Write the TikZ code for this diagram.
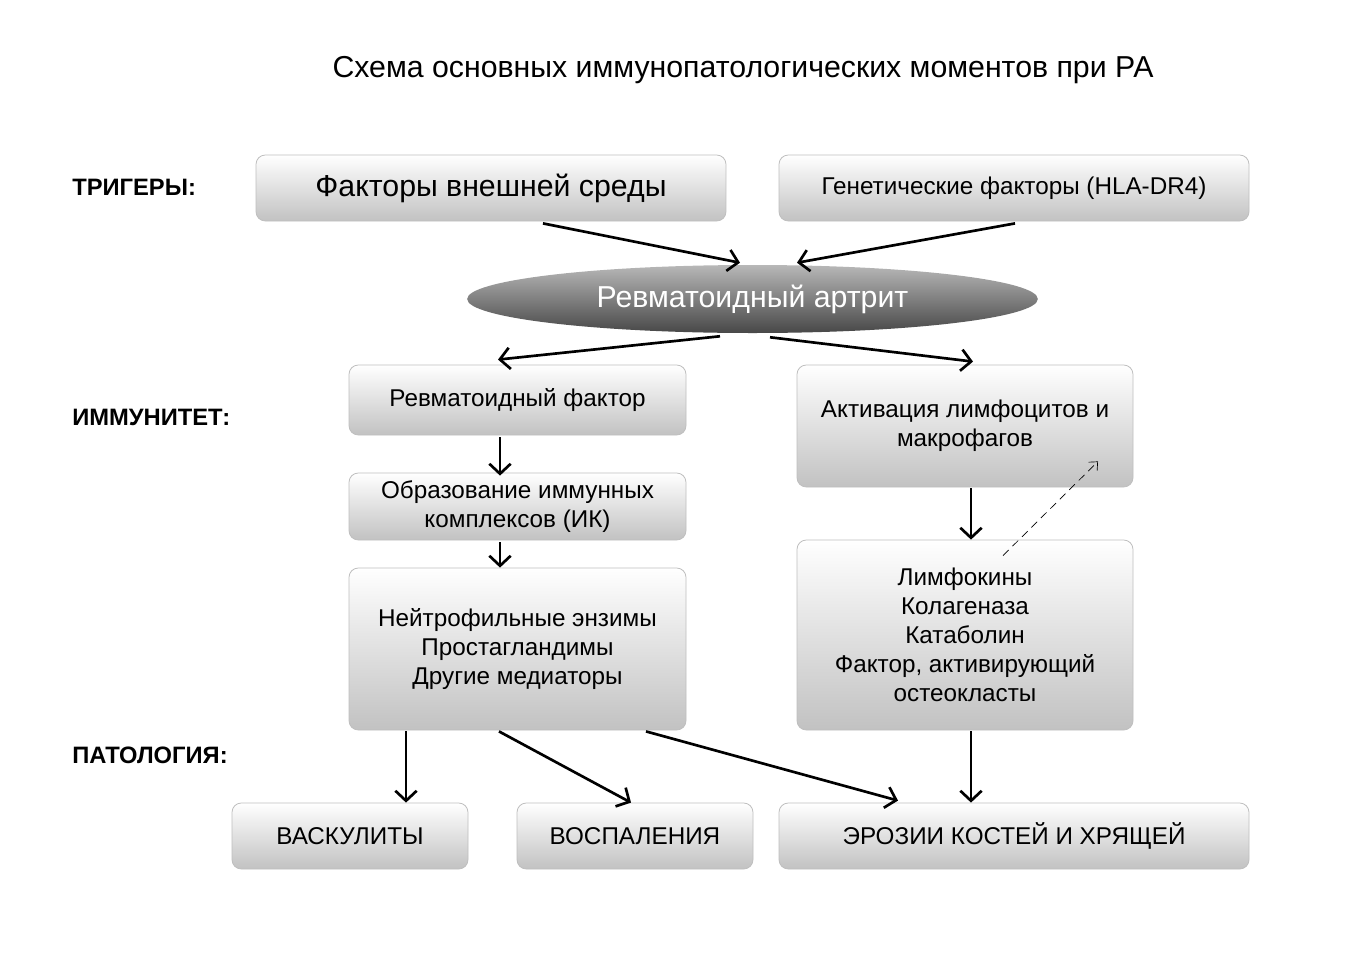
\documentclass[tikz,border=0pt]{standalone}
\usepackage{fontspec}
\setmainfont{Liberation Sans}
\usetikzlibrary{shapes.geometric, arrows.meta, calc}

\begin{document}
\begin{tikzpicture}[x=0.75pt, y=-0.75pt,
    box/.style={draw=black!25, line width=0.6pt, rounded corners=7pt,
        top color=white, bottom color=black!24, align=center, inner sep=0pt,
        font=\fontsize{18.2}{21.75}\selectfont},
    bigbox/.style={box, font=\fontsize{22.7}{26}\selectfont},
    sidelabel/.style={anchor=west, inner sep=0pt, font=\bfseries\fontsize{17.8}{20}\selectfont},
    arr/.style={line width=2pt, -{Straight Barb[length=7.5pt, width=16pt]}},
    dasharr/.style={line width=0.5pt, dash pattern=on 6pt off 4pt,
        -{Straight Barb[length=5pt, width=9pt]}}
]

    % Page and margins
    \fill[white] (0,0) rectangle (1368,964);
    \useasboundingbox (0,0) rectangle (1368,964);

    % Title
    \node[font=\fontsize{22.7}{26}\selectfont] (title) at (743,70) {Схема основных иммунопатологических моментов при РА};

    % Row labels
    \node[sidelabel] (trig) at (72,187) {ТРИГЕРЫ:};
    \node[sidelabel] (imm) at (72,417) {ИММУНИТЕТ:};
    \node[sidelabel] (pat) at (72,755) {ПАТОЛОГИЯ:};

    % Triggers
    \node[bigbox, minimum width=352.5pt, minimum height=49.5pt] (env) at (491,188) {Факторы внешней среды};
    \node[box, minimum width=352.5pt, minimum height=49.5pt] (gen) at (1014,188) {Генетические факторы (HLA-DR4)};

    % The disease
    \node[ellipse, draw=none, inner sep=0pt, minimum width=428pt, minimum height=51pt,
        top color=black!28, bottom color=black!72, text=white,
        font=\fontsize{22.7}{26}\selectfont] (ra) at (752.5,299) {Ревматоидный артрит};

    % Immunity, left column
    \node[box, minimum width=252.75pt, minimum height=52.5pt] (rf) at (517.5,400) {Ревматоидный фактор};
    \node[box, minimum width=252.75pt, minimum height=50.25pt] (ik) at (517.5,506.5) {Образование иммунных\\комплексов (ИК)};
    \node[box, minimum width=252.75pt, minimum height=121.5pt] (med) at (517.5,649) {Нейтрофильные энзимы\\Простагландимы\\Другие медиаторы};

    % Immunity, right column
    \node[box, minimum width=252pt, minimum height=91.5pt] (act) at (965,426) {Активация лимфоцитов и\\макрофагов};
    \node[box, minimum width=252pt, minimum height=142.5pt] (cyt) at (965,635) {Лимфокины\\Колагеназа\\Катаболин\\Фактор, активирующий\\остеокласты};

    % Pathology
    \node[box, minimum width=177pt, minimum height=49.5pt] (vasc) at (350,836) {ВАСКУЛИТЫ};
    \node[box, minimum width=177pt, minimum height=49.5pt] (infl) at (635,836) {ВОСПАЛЕНИЯ};
    \node[box, minimum width=352.5pt, minimum height=49.5pt] (eros) at (1014,836) {ЭРОЗИИ КОСТЕЙ И ХРЯЩЕЙ};

    % Connectors
    \draw[arr] ($(env.south)+(52,2)$) -- ($(ra.north)+(-12.5,-2)$);
    \draw[arr] ($(gen.south)+(1,2)$) -- ($(ra.north)+(44.5,-2)$);
    \draw[arr] ($(ra.south)+(-32.5,3)$) -- ($(rf.north)+(-19.5,-5)$);
    \draw[arr] ($(ra.south)+(17.5,4)$) -- ($(act.north)+(8,-3)$);
    \draw[arr] ($(rf.south)+(-17.5,2)$) -- ($(ik.north)+(-17.5,3)$);
    \draw[arr] ($(ik.south)+(-17.5,2)$) -- ($(med.north)+(-17.5,0)$);
    \draw[arr] ($(act.south)+(6,1)$) -- ($(cyt.north)+(6,0)$);
    \draw[dasharr] ($(cyt.north)+(38,16)$) -- ($(act.south)+(133,-26)$);
    \draw[arr] ($(med.south)+(-111.5,1)$) -- ($(vasc.north)+(56,0)$);
    \draw[arr] ($(med.south)+(-18.5,1)$) -- ($(infl.north)+(-4,0)$);
    \draw[arr] ($(med.south)+(128.5,1)$) -- ($(eros.north)+(-116,-2)$);
    \draw[arr] ($(cyt.south)+(6,1)$) -- ($(eros.north)+(-43,0)$);

\end{tikzpicture}
\end{document}
